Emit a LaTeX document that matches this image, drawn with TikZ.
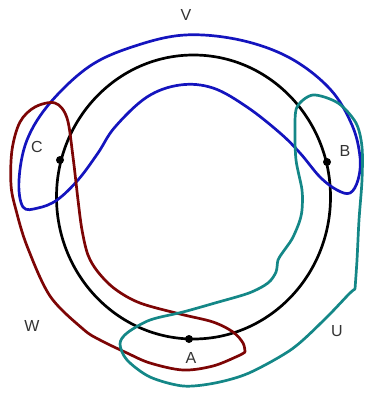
\documentclass[tikz,border=0pt]{standalone}
\usepackage{fontspec}
\setmainfont{Liberation Sans}
\begin{document}
\begin{tikzpicture}[x=1pt,y=-1pt,
  curve/.style={line width=2.7pt, line join=round, line cap=round},
  lbl/.style={font=\fontsize{16}{18}\selectfont, text=black!80, inner sep=0pt},
  dot/.style={circle, fill=black, inner sep=0pt, minimum size=8pt}]
\definecolor{vblue}{RGB}{20,20,190}
\definecolor{wred}{RGB}{125,5,5}
\definecolor{uteal}{RGB}{20,135,135}
\useasboundingbox (0,0) rectangle (365,393);
% black circle
\draw[curve, black] (193.5,197) ellipse [x radius=137, y radius=142];
% V (blue)
\draw[curve, vblue] plot[smooth cycle, tension=0.6] coordinates {
 (23,207) (19,180) (27,140) (50,103) (90,66) (135,46) (185,35) (240,40)
 (290,58) (330,89) (352,125) (360,157) (358,180) (350,193) (337,190)
 (320,177) (300,153) (280,133) (247,107) (213,88) (180,85) (147,97)
 (115,127) (98,153) (78,180) (57,200) (38,208)};
% W (maroon)
\draw[curve, wred] plot[smooth, tension=0.55] coordinates {
 (245,352) (238,356) (213,366) (183,370) (150,363) (127,353) (100,340)
 (83,329) (50,296) (27,246) (16,210) (11,185) (12,150) (20,122) (35,107)
 (55,103) (67,118) (73,157) (78,200) (82,230) (88,255) (98,272) (115,289)
 (140,303) (180,314) (213,322) (233,332) (243,343) (245,352)};
% U (teal)
\draw[curve, uteal] plot[smooth, tension=0.5] coordinates {
 (355,289) (357,260) (359,220) (362,180) (362,147) (356,123) (338,103)
 (313,95) (297,107) (295,130) (296,160) (302,190) (302,210) (299,223)
 (292,239) (283,252) (278,260) (276,272) (268,283) (249,293) (215,303)
 (183,312) (150,320) (127,333) (120,344) (127,360) (150,377) (183,386)
 (215,383) (249,373) (292,349) (325,319) (349,294) (355,289)};
% dots
\node[dot] (A) at (189,339) {};
\node[dot] (B) at (327,162) {};
\node[dot] (C) at (60,160) {};
% labels
\node[lbl] (la) at (191,358) {A};
\node[lbl] (lb) at (345,151) {B};
\node[lbl] (lc) at (37,147) {C};
\node[lbl] (lv) at (186,15) {V};
\node[lbl] (lw) at (32,326) {W};
\node[lbl] (lu) at (337,331) {U};
\end{tikzpicture}
\end{document}
